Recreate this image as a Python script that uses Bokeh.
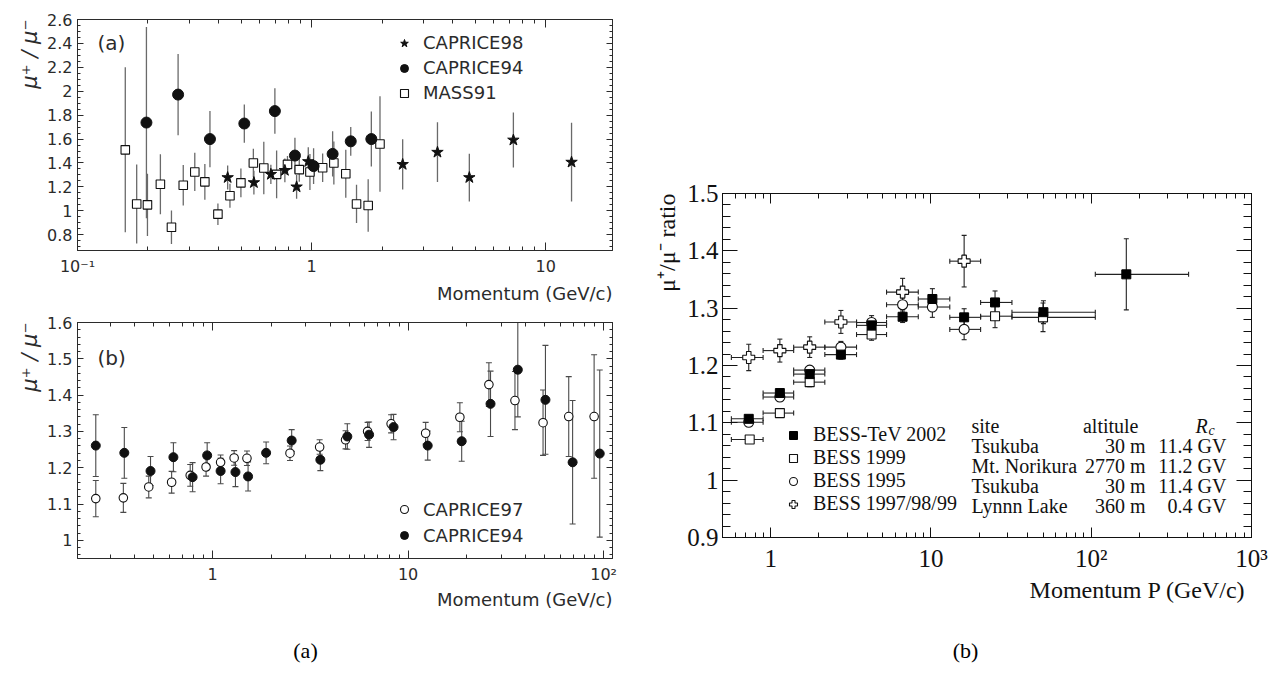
import numpy as np
from bokeh.plotting import figure
from bokeh.models import (ColumnDataSource, Whisker, TeeHead, FixedTicker, CustomJSTickFormatter,
                          LogAxis, LinearAxis, Legend, LegendItem, Label, Range1d, Title)
from bokeh.layouts import row, column
from bokeh.embed import file_html
from bokeh.resources import INLINE

# ---------------- data: panel (a) upper ----------------
c98_p = [0.438, 0.567, 0.670, 0.769, 0.863, 0.968, 2.45, 3.45, 4.72, 7.28, 12.9]
c98_r = [1.278, 1.236, 1.305, 1.338, 1.20, 1.412, 1.388, 1.49, 1.278, 1.592, 1.407]
c98_e = [0.10, 0.10, 0.08, 0.10, 0.10, 0.12, 0.21, 0.25, 0.20, 0.23, 0.33]

c94a_p = [0.197, 0.269, 0.368, 0.516, 0.697, 0.849, 1.02, 1.23, 1.47, 1.80]
c94a_r = [1.738, 1.972, 1.60, 1.73, 1.834, 1.462, 1.374, 1.476, 1.581, 1.60]
c94a_e = [0.80, 0.34, 0.235, 0.16, 0.19, 0.15, 0.15, 0.19, 0.12, 0.23]

m91_p = [0.160, 0.179, 0.199, 0.226, 0.252, 0.283, 0.317, 0.350, 0.398, 0.448, 0.499, 0.564,
         0.625, 0.709, 0.789, 0.886, 0.984, 1.115, 1.245, 1.40, 1.556, 1.745, 1.96]
m91_r = [1.51, 1.057, 1.05, 1.222, 0.862, 1.214, 1.325, 1.242, 0.972, 1.126, 1.234, 1.40,
         1.358, 1.305, 1.388, 1.344, 1.325, 1.36, 1.40, 1.31, 1.057, 1.044, 1.559]
m91_e = [0.69, 0.33, 0.26, 0.25, 0.14, 0.17, 0.16, 0.15, 0.09, 0.10, 0.12, 0.12,
         0.22, 0.20, 0.07, 0.10, 0.15, 0.12, 0.18, 0.20, 0.16, 0.22, 0.40]

# ---------------- data: panel (a) lower ----------------
c97_p = [0.253, 0.350, 0.472, 0.618, 0.769, 0.927, 1.10, 1.29, 1.50, 2.49, 3.53, 4.79, 6.21,
         8.19, 12.3, 18.4, 25.9, 35.2, 49.0, 66.3, 89.4]
c97_r = [1.115, 1.117, 1.147, 1.16, 1.179, 1.202, 1.215, 1.227, 1.226, 1.24, 1.257, 1.277,
         1.30, 1.321, 1.295, 1.339, 1.429, 1.385, 1.324, 1.341, 1.341]
c97_e = [0.05, 0.04, 0.03, 0.03, 0.03, 0.025, 0.02, 0.02, 0.02, 0.02, 0.02, 0.025, 0.025,
         0.025, 0.03, 0.04, 0.06, 0.08, 0.09, 0.11, 0.17]

c94b_p = [0.253, 0.354, 0.482, 0.631, 0.791, 0.939, 1.10, 1.31, 1.52, 1.88, 2.54, 3.56, 4.89,
          6.32, 8.43, 12.6, 18.8, 26.4, 36.4, 50.4, 69.4, 95.5]
c94b_r = [1.261, 1.241, 1.191, 1.229, 1.174, 1.234, 1.191, 1.188, 1.176, 1.241, 1.275, 1.222,
          1.286, 1.291, 1.312, 1.261, 1.273, 1.376, 1.47, 1.387, 1.215, 1.239]
c94b_e = [0.085, 0.07, 0.04, 0.04, 0.04, 0.035, 0.035, 0.04, 0.04, 0.03, 0.03, 0.03, 0.035,
          0.035, 0.035, 0.04, 0.055, 0.09, 0.13, 0.15, 0.17, 0.23]

# ---------------- data: panel (b) ----------------
tev_p = [0.729, 1.14, 1.75, 2.74, 4.26, 6.65, 10.2, 16.1, 25.1, 50.3, 165.5]
tev_lo = [0.568, 0.896, 1.39, 2.175, 3.43, 5.28, 8.33, 13.1, 20.4, 32.0, 106.0]
tev_hi = [0.896, 1.39, 2.175, 3.43, 5.28, 8.33, 13.1, 20.4, 32.0, 106.0, 405.0]
tev_r = [1.107, 1.152, 1.185, 1.219, 1.27, 1.285, 1.316, 1.284, 1.31, 1.293, 1.359]
tev_e = [0.005, 0.005, 0.008, 0.008, 0.012, 0.01, 0.018, 0.015, 0.02, 0.02, 0.062]

b99_p = [0.739, 1.14, 1.75, 4.26, 25.1, 50.0]
b99_lo = [0.568, 0.896, 1.39, 3.43, 20.4, 32.0]
b99_hi = [0.896, 1.39, 2.175, 5.28, 32.0, 106.0]
b99_r = [1.071, 1.117, 1.171, 1.254, 1.286, 1.284]
b99_e = [0.005, 0.006, 0.008, 0.01, 0.02, 0.025]

b95_p = [0.729, 1.14, 1.75, 2.74, 4.26, 6.65, 10.2, 16.1]
b95_lo = [0.568, 0.896, 1.39, 2.175, 3.43, 5.28, 8.33, 13.1]
b95_hi = [0.896, 1.39, 2.175, 3.43, 5.28, 8.33, 13.1, 20.4]
b95_r = [1.101, 1.145, 1.192, 1.232, 1.275, 1.306, 1.302, 1.263]
b95_e = [0.006, 0.007, 0.008, 0.01, 0.012, 0.015, 0.018, 0.018]

ll_p = [0.729, 1.14, 1.75, 2.74, 6.65, 16.1]
ll_lo = [0.568, 0.896, 1.39, 2.175, 5.28, 13.1]
ll_hi = [0.896, 1.39, 2.175, 3.43, 8.33, 20.4]
ll_r = [1.214, 1.226, 1.232, 1.276, 1.328, 1.382]
ll_e = [0.023, 0.02, 0.018, 0.02, 0.024, 0.045]

bess_names = ["BESS-TeV 2002", "BESS 1999", "BESS 1995", "BESS 1997/98/99"]
bess_sites = ["Tsukuba", "Mt. Norikura", "Tsukuba", "Lynnn Lake"]
bess_alt = ["30 m", "2770 m", "30 m", "360 m"]
bess_rc = ["11.4 GV", "11.2 GV", "11.4 GV", "0.4 GV"]

captions = ["(a)", "(b)"]

# ---------------- helpers ----------------
FA = "DejaVu Sans"
FB = "Liberation Serif"
INK_A = "#2b2b2b"
INK_B = "#111111"
HAS_STANDOFF = "standoff" in Title.properties()


def log_fmt():
    return CustomJSTickFormatter(code="""
const e = Math.round(Math.log10(tick));
if (e === 0) return "1";
if (e === 1) return "10";
const sup = {"-1": "\u207b\u00b9", "2": "\u00b2", "3": "\u00b3"};
return "10" + (sup[String(e)] || String(e));
""")


def lin_fmt():
    return CustomJSTickFormatter(code="return String(Math.round(tick*100)/100);")


def blank_fmt():
    return CustomJSTickFormatter(code="return '';")


def log_ticker(lo, hi):
    major = [10.0 ** d for d in range(-2, 4) if lo * 0.999 <= 10.0 ** d <= hi * 1.001]
    minor = [k * 10.0 ** d for d in range(-2, 4) for k in range(2, 10) if lo <= k * 10.0 ** d <= hi]
    return FixedTicker(ticks=major, minor_ticks=minor)


def lin_ticker(lo, hi, step, mstep):
    major = [round(v, 3) for v in np.arange(lo, hi + 1e-9, step)]
    mlo = np.floor(lo / mstep - 3) * mstep
    minor = [round(v, 3) for v in np.arange(mlo, hi + 1e-9, mstep)]
    return FixedTicker(ticks=major, minor_ticks=minor)


def style_axis(ax, color, font, size, standoff, tin, min_in, lw=1):
    ax.major_tick_in = tin
    ax.major_tick_out = 0
    ax.minor_tick_in = min_in
    ax.minor_tick_out = 0
    ax.axis_line_color = color
    ax.major_tick_line_color = color
    ax.minor_tick_line_color = color
    ax.axis_line_width = lw
    ax.major_tick_line_width = lw
    ax.minor_tick_line_width = lw
    ax.major_label_text_font = font
    ax.major_label_text_font_size = size
    ax.major_label_text_color = color
    ax.major_label_standoff = standoff


def side_title(p, side, text, font, size, style, color, standoff, align="right", offset=0):
    t = Title(text=text, align=align, offset=offset, text_font=font, text_font_size=size,
              text_font_style=style, text_color=color)
    if HAS_STANDOFF:
        t.standoff = standoff
    p.add_layout(t, side)


def mirror(p, side, ticker, color, tin, min_in, log=False):
    ax = (LogAxis if log else LinearAxis)(ticker=ticker, formatter=blank_fmt())
    style_axis(ax, color, FA, "0px", 0, tin, min_in)
    p.add_layout(ax, side)


def errbars(p, x, y, e, color, width, cap):
    src = ColumnDataSource(dict(x=x, lo=[a - b for a, b in zip(y, e)], hi=[a + b for a, b in zip(y, e)]))
    w = Whisker(base="x", lower="lo", upper="hi", source=src, dimension="height",
                line_color=color, line_width=width, level="underlay")
    if cap:
        w.upper_head = TeeHead(size=cap, line_color=color, line_width=width)
        w.lower_head = TeeHead(size=cap, line_color=color, line_width=width)
    else:
        w.upper_head = None
        w.lower_head = None
    p.add_layout(w)


def xbars(p, y, lo, hi, color, width, cap):
    src = ColumnDataSource(dict(y=y, lo=lo, hi=hi))
    w = Whisker(base="y", lower="lo", upper="hi", source=src, dimension="width",
                line_color=color, line_width=width, level="underlay",
                upper_head=TeeHead(size=cap, line_color=color, line_width=width),
                lower_head=TeeHead(size=cap, line_color=color, line_width=width))
    p.add_layout(w)


def lab(p, text, dx, dy, font, size, color, align="left", baseline="middle", angle=0.0, style="normal"):
    p.add_layout(Label(x=dx, y=dy, x_units="screen", y_units="screen", text=text,
                       text_font=font, text_font_size=size, text_color=color,
                       text_align=align, text_baseline=baseline, angle=angle,
                       text_font_style=style))


def base_fig(w, h, xr, yr, bl, br, bt, bb):
    p = figure(width=w, height=h, x_axis_type="log", x_range=Range1d(*xr), y_range=Range1d(*yr),
               output_backend="svg", toolbar_location=None,
               min_border_left=bl, min_border_right=br, min_border_top=bt, min_border_bottom=bb)
    p.grid.visible = False
    p.background_fill_color = "white"
    p.border_fill_color = "white"
    return p


def setup_axes(p, xt, yt, color, font, size, xs, ys, xin, xmin, yin, ymin):
    ax_x = p.below[0]
    ax_y = p.left[0]
    ax_x.ticker = xt
    ax_x.formatter = log_fmt()
    ax_y.ticker = yt
    ax_y.formatter = lin_fmt()
    style_axis(ax_x, color, font, size, xs, xin, xmin)
    style_axis(ax_y, color, font, size, ys, yin, ymin)
    mirror(p, "above", xt, color, xin, xmin, log=True)
    mirror(p, "right", yt, color, yin, ymin)


MU_A = "\u03bc\u207a / \u03bc\u207b"
MU_B = "\u03bc\u207a/\u03bc\u207b ratio"

# ---------------- panel (a) upper ----------------
p1 = base_fig(640, 305, (0.1, 19.3), (0.668, 2.6), 77, 27, 19, 52)
p1.outline_line_color = INK_A
setup_axes(p1, log_ticker(0.1, 19.3), lin_ticker(0.8, 2.6, 0.2, 0.05), INK_A, FA, "16px", 6, 5, 8, 4, 6, 3)
side_title(p1, "below", "Momentum (GeV/c)", FA, "18px", "normal", INK_A, 4)
side_title(p1, "left", MU_A, FA, "21px", "italic", INK_A, 6)

errbars(p1, m91_p, m91_r, m91_e, "#6a6a6a", 1.3, 0)
errbars(p1, c94a_p, c94a_r, c94a_e, "#6a6a6a", 1.3, 0)
errbars(p1, c98_p, c98_r, c98_e, "#6a6a6a", 1.3, 0)
r_m91 = p1.scatter(m91_p, m91_r, marker="square", size=8.5, fill_color="white", line_color="#111", line_width=1.1)
r_c94a = p1.scatter(c94a_p, c94a_r, marker="circle", size=11, fill_color="#111", line_color="#111")
r_c98 = p1.scatter(c98_p, c98_r, marker="star", size=12, fill_color="#111", line_color="#111")

leg1 = Legend(items=[LegendItem(label="CAPRICE98", renderers=[r_c98]),
                     LegendItem(label="CAPRICE94", renderers=[r_c94a]),
                     LegendItem(label="MASS91", renderers=[r_m91])],
              location=(317, 145), padding=0, spacing=0, margin=0,
              glyph_width=20, glyph_height=20, label_height=25, label_standoff=9,
              border_line_alpha=0, background_fill_alpha=0,
              label_text_font=FA, label_text_font_size="18px", label_text_color=INK_A)
p1.add_layout(leg1)
lab(p1, "(a)", 20, 208, FA, "20px", INK_A)

# ---------------- panel (a) lower ----------------
p2 = base_fig(640, 310, (0.204, 111), (0.95, 1.6), 77, 28, 17, 57)
p2.outline_line_color = INK_A
setup_axes(p2, log_ticker(0.204, 111), lin_ticker(1.0, 1.6, 0.1, 0.02), INK_A, FA, "16px", 6, 5, 8, 4, 6, 3)
side_title(p2, "below", "Momentum (GeV/c)", FA, "18px", "normal", INK_A, 0)
side_title(p2, "left", MU_A, FA, "21px", "italic", INK_A, 6)

errbars(p2, c97_p, c97_r, c97_e, "#4a4a4a", 1.1, 6)
errbars(p2, c94b_p, c94b_r, c94b_e, "#4a4a4a", 1.1, 6)
r_c97 = p2.scatter(c97_p, c97_r, marker="circle", size=8.5, fill_color="white", line_color="#111", line_width=1.1)
r_c94b = p2.scatter(c94b_p, c94b_r, marker="circle", size=9, fill_color="#111", line_color="#111")

leg2 = Legend(items=[LegendItem(label="CAPRICE97", renderers=[r_c97]),
                     LegendItem(label="CAPRICE94", renderers=[r_c94b])],
              location=(317, 10), padding=0, spacing=0, margin=0,
              glyph_width=20, glyph_height=20, label_height=26, label_standoff=9,
              border_line_alpha=0, background_fill_alpha=0,
              label_text_font=FA, label_text_font_size="18px", label_text_color=INK_A)
p2.add_layout(leg2)
lab(p2, "(b)", 20, 201, FA, "20px", INK_A)

# ---------------- panel (b) ----------------
p3 = base_fig(638, 615, (0.5, 1000), (0.9, 1.5), 82, 27, 193, 78)
p3.outline_line_color = INK_B
setup_axes(p3, log_ticker(0.5, 1000), lin_ticker(0.9, 1.5, 0.1, 0.02), INK_B, FB, "25px", 7, 4, 10, 5, 15, 8)
side_title(p3, "below", "Momentum  P (GeV/c)", FB, "24px", "normal", INK_B, 1)
side_title(p3, "left", MU_B, FB, "24px", "normal", INK_B, 10)

series_b = [
    (ll_p, ll_lo, ll_hi, ll_r, ll_e),
    (b95_p, b95_lo, b95_hi, b95_r, b95_e),
    (b99_p, b99_lo, b99_hi, b99_r, b99_e),
    (tev_p, tev_lo, tev_hi, tev_r, tev_e),
]
for (pp, lo, hi, rr, ee) in series_b:
    xbars(p3, rr, lo, hi, "#222", 1.1, 5)
    errbars(p3, pp, rr, ee, "#222", 1.1, 5)

r_ll = p3.scatter(ll_p, ll_r, marker="plus", size=12, fill_color="white", line_color="#111", line_width=1.1)
r_95 = p3.scatter(b95_p, b95_r, marker="circle", size=10, fill_color="white", line_color="#111", line_width=1.1)
r_99 = p3.scatter(b99_p, b99_r, marker="square", size=9, fill_color="white", line_color="#111", line_width=1.1)
r_tev = p3.scatter(tev_p, tev_r, marker="square", size=9, fill_color="#000", line_color="#000")

leg3 = Legend(items=[LegendItem(label=bess_names[0], renderers=[r_tev]),
                     LegendItem(label=bess_names[1], renderers=[r_99]),
                     LegendItem(label=bess_names[2], renderers=[r_95]),
                     LegendItem(label=bess_names[3], renderers=[r_ll])],
              location=(61, 22), padding=0, spacing=0, margin=0,
              glyph_width=20, glyph_height=20, label_height=20, label_standoff=10,
              border_line_alpha=0, background_fill_alpha=0,
              label_text_font=FB, label_text_font_size="20px", label_text_color=INK_B,
              label_text_line_height=1.0)
p3.add_layout(leg3)

row_y0 = 92   # first table row, measured upward from frame bottom
row_h = 20
lab(p3, "site", 249, row_y0 + row_h, FB, "20px", INK_B)
lab(p3, "altitule", 416, row_y0 + row_h, FB, "20px", INK_B, align="right")
lab(p3, "R", 473, row_y0 + row_h, FB, "20px", INK_B, style="italic")
lab(p3, "c", 486, row_y0 + row_h - 5, FB, "14px", INK_B, style="italic")
for i in range(len(bess_names)):
    yy = row_y0 - i * row_h
    lab(p3, bess_sites[i], 249, yy, FB, "20px", INK_B)
    lab(p3, bess_alt[i], 423, yy, FB, "20px", INK_B, align="right")
    lab(p3, bess_rc[i], 504, yy, FB, "20px", INK_B, align="right")

# ---------------- caption strip ----------------
pc = figure(width=1278, height=58, x_range=Range1d(0, 1), y_range=Range1d(0, 1),
            x_axis_location=None, y_axis_location=None, output_backend="svg",
            toolbar_location=None, min_border=0)
pc.grid.visible = False
pc.outline_line_color = None
pc.background_fill_color = "white"
pc.border_fill_color = "white"
lab(pc, captions[0], 305, 23, FB, "22px", "#000", align="center")
lab(pc, captions[1], 965, 23, FB, "22px", "#000", align="center")

layout = column(row(column(p1, p2, spacing=0), p3, spacing=0), pc, spacing=0)
open("out.html", "w").write(file_html(layout, INLINE))
